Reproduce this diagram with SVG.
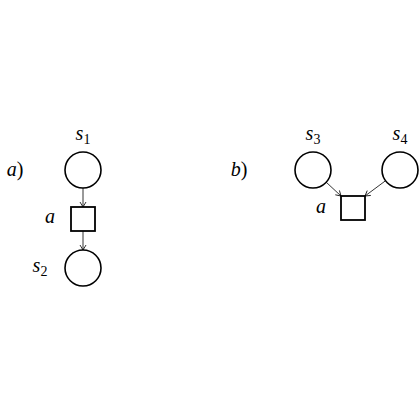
<svg xmlns="http://www.w3.org/2000/svg" width="420" height="420" viewBox="0 0 420 420">
<style>
.place{fill:#fff;stroke:#000;stroke-width:1.6}
.trans{fill:#fff;stroke:#000;stroke-width:1.8}
.arc{stroke:#000;stroke-width:0.8;fill:none;marker-end:url(#ah)}
text{font-family:'Liberation Serif','Times New Roman',serif;font-size:20px;fill:#000;text-anchor:middle}
.it{font-style:italic}
.up{font-style:normal}
.sub{font-size:14px;font-style:normal}
</style>
<defs>
<marker id="ah" markerWidth="8" markerHeight="8" refX="6" refY="4" orient="auto" markerUnits="userSpaceOnUse">
<path d="M1,1 L6,4 L1,7" fill="none" stroke="#000" stroke-width="0.8"/>
</marker>
</defs>
<g id="connectors">
<line class="arc" x1="83" y1="188" x2="83" y2="207"/>
<line class="arc" x1="83" y1="231" x2="83" y2="250"/>
<line class="arc" x1="326" y1="182" x2="341" y2="196"/>
<line class="arc" x1="385.6" y1="180.7" x2="365" y2="196"/>
</g>
<g id="label-a-paren"><text x="15" y="176" class="it">a<tspan class="up">)</tspan></text></g>
<g id="s1"><circle class="place" cx="83" cy="170" r="18"/><text x="83" y="140" class="it">s<tspan class="sub" dy="4">1</tspan></text></g>
<g id="ta"><rect class="trans" x="71" y="207" width="24" height="24"/><text x="50" y="223" class="it">a</text></g>
<g id="s2"><circle class="place" cx="83" cy="268" r="18"/><text x="40" y="272" class="it">s<tspan class="sub" dy="4">2</tspan></text></g>
<g id="label-b-paren"><text x="239" y="176" class="it">b<tspan class="up">)</tspan></text></g>
<g id="s3"><circle class="place" cx="313" cy="170" r="18"/><text x="313" y="140" class="it">s<tspan class="sub" dy="4">3</tspan></text></g>
<g id="s4"><circle class="place" cx="400" cy="170" r="18"/><text x="400" y="140" class="it">s<tspan class="sub" dy="4">4</tspan></text></g>
<g id="tb"><rect class="trans" x="341" y="196" width="24" height="24"/><text x="321" y="213" class="it">a</text></g>
</svg>
